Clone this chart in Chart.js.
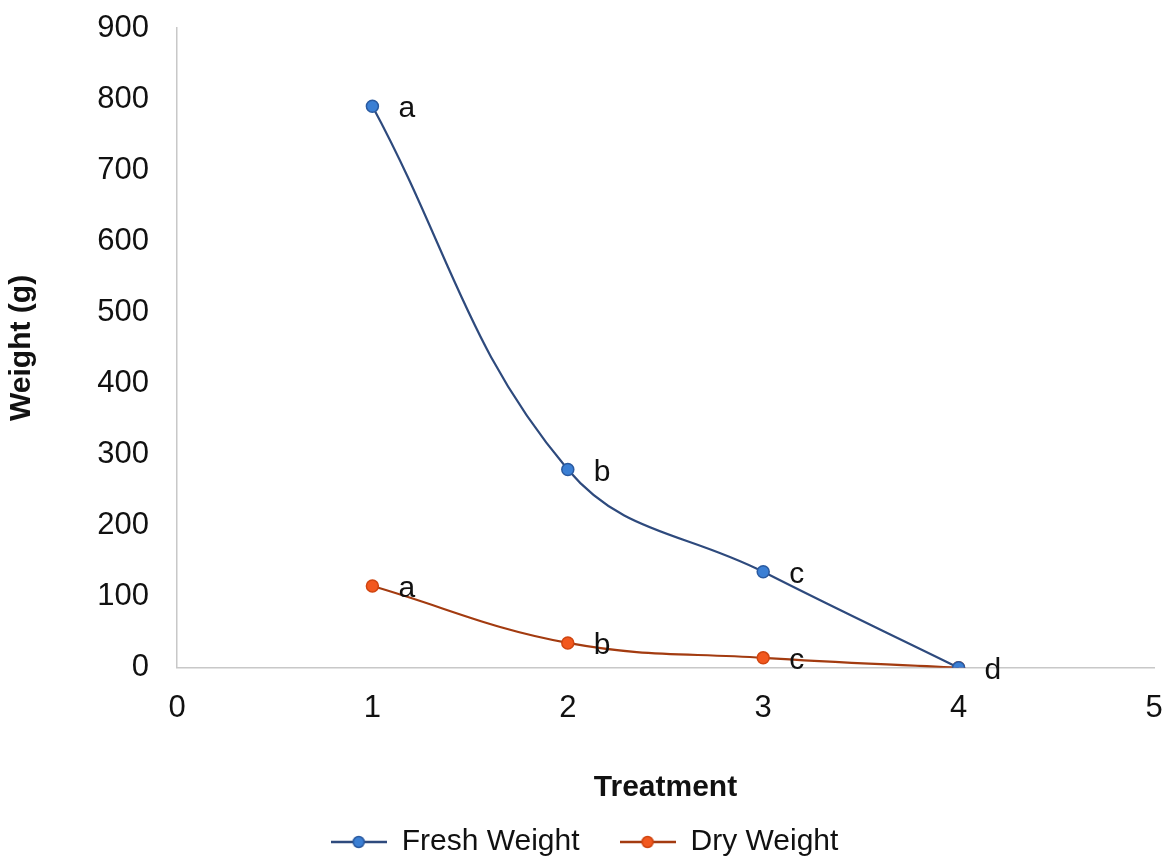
<!DOCTYPE html>
<html>
<head>
<meta charset="utf-8">
<script src="https://cdn.jsdelivr.net/npm/chart.js@4"></script>
<style>
  html, body { margin: 0; padding: 0; background: #fff; }
  #wrap { width: 1169px; height: 863px; position: relative; }
</style>
</head>
<body>
<div id="wrap"><canvas id="weight-chart"></canvas></div>
<script>
// treatment numbers on the x axis
const treatments = [1, 2, 3, 4];
const freshWeight = [790, 279, 135, 0];
const dryWeight = [115, 35, 14, 0];
// significance letters next to each point
const freshLetters = ["a", "b", "c", ""];
const dryLetters = ["a", "b", "c", "d"];

const FONT = "'Liberation Sans', Arial, sans-serif";

function legendMarker(line, fill, border) {
  const c = document.createElement("canvas");
  c.width = 56; c.height = 16;
  const g = c.getContext("2d");
  g.strokeStyle = line; g.lineWidth = 2.5;
  g.beginPath(); g.moveTo(0, 8); g.lineTo(56, 8); g.stroke();
  g.fillStyle = fill; g.strokeStyle = border; g.lineWidth = 1.5;
  g.beginPath(); g.arc(28, 8, 5.5, 0, Math.PI * 2); g.fill(); g.stroke();
  return c;
}
const markers = [
  legendMarker("#2e4a7d", "#3b7fd4", "#2a5aa0"),
  legendMarker("#a33b10", "#f2581e", "#d04510")
];

const letterPlugin = {
  id: "letters",
  afterDatasetsDraw(chart) {
    const ctx = chart.ctx;
    const sets = [freshLetters, dryLetters];
    ctx.save();
    ctx.font = "30px " + FONT;
    ctx.fillStyle = "#111";
    ctx.textBaseline = "middle";
    ctx.textAlign = "left";
    chart.data.datasets.forEach((ds, i) => {
      chart.getDatasetMeta(i).data.forEach((pt, j) => {
        const t = sets[i][j];
        if (t) ctx.fillText(t, pt.x + 26, pt.y + 3);
      });
    });
    ctx.restore();
  }
};

const toXY = (vals) => vals.map((v, i) => ({ x: treatments[i], y: v }));

new Chart(document.getElementById("weight-chart"), {
  type: "line",
  data: {
    datasets: [{
      label: "Fresh Weight",
      data: toXY(freshWeight),
      borderColor: "#2e4a7d",
      borderWidth: 2.2,
      pointRadius: 6,
      pointBackgroundColor: "#3b7fd4",
      pointBorderColor: "#2a5aa0",
      pointBorderWidth: 1.5,
      tension: 0.4
    }, {
      label: "Dry Weight",
      data: toXY(dryWeight),
      borderColor: "#a33b10",
      borderWidth: 2.2,
      pointRadius: 6,
      pointBackgroundColor: "#f2581e",
      pointBorderColor: "#d04510",
      pointBorderWidth: 1.5,
      tension: 0.4
    }]
  },
  options: {
    responsive: true,
    maintainAspectRatio: false,
    animation: false,
    layout: { padding: { top: 0, right: 0, left: 0, bottom: -4 } },
    scales: {
      x: {
        type: "linear",
        min: 0, max: 5,
        ticks: { stepSize: 1, color: "#111", padding: 22, font: { family: FONT, size: 31 } },
        grid: { display: false, drawTicks: false },
        border: { display: true, color: "#c8c8c8", width: 1.5 },
        title: { display: true, text: "Treatment", color: "#111", padding: { top: 21, bottom: -19 },
                 font: { family: FONT, size: 30, weight: "bold" } },
        afterFit(scale) { scale.paddingRight = 15; }
      },
      y: {
        min: 0, max: 900,
        ticks: { stepSize: 100, color: "#111", padding: 28, font: { family: FONT, size: 31 } },
        grid: { display: false, drawTicks: false },
        border: { display: true, color: "#c8c8c8", width: 1.5 },
        title: { display: true, text: "Weight (g)", color: "#111", padding: { top: 4, bottom: 50 },
                 font: { family: FONT, size: 30, weight: "bold" } },
        afterFit(scale) {
          scale.width = 177;
          scale.paddingTop = 28;
        }
      }
    },
    plugins: {
      legend: {
        position: "bottom",
        labels: {
          usePointStyle: true,
          pointStyleWidth: 56,
          color: "#111",
          padding: 40,
          font: { family: FONT, size: 30 },
          generateLabels(chart) {
            return chart.data.datasets.map((ds, i) => ({
              text: ds.label,
              pointStyle: markers[i],
              fillStyle: ds.pointBackgroundColor,
              strokeStyle: ds.borderColor,
              lineWidth: 0,
              hidden: false,
              datasetIndex: i,
              fontColor: "#111"
            }));
          }
        }
      },
      tooltip: { enabled: false }
    }
  },
  plugins: [letterPlugin]
});
</script>
</body>
</html>
